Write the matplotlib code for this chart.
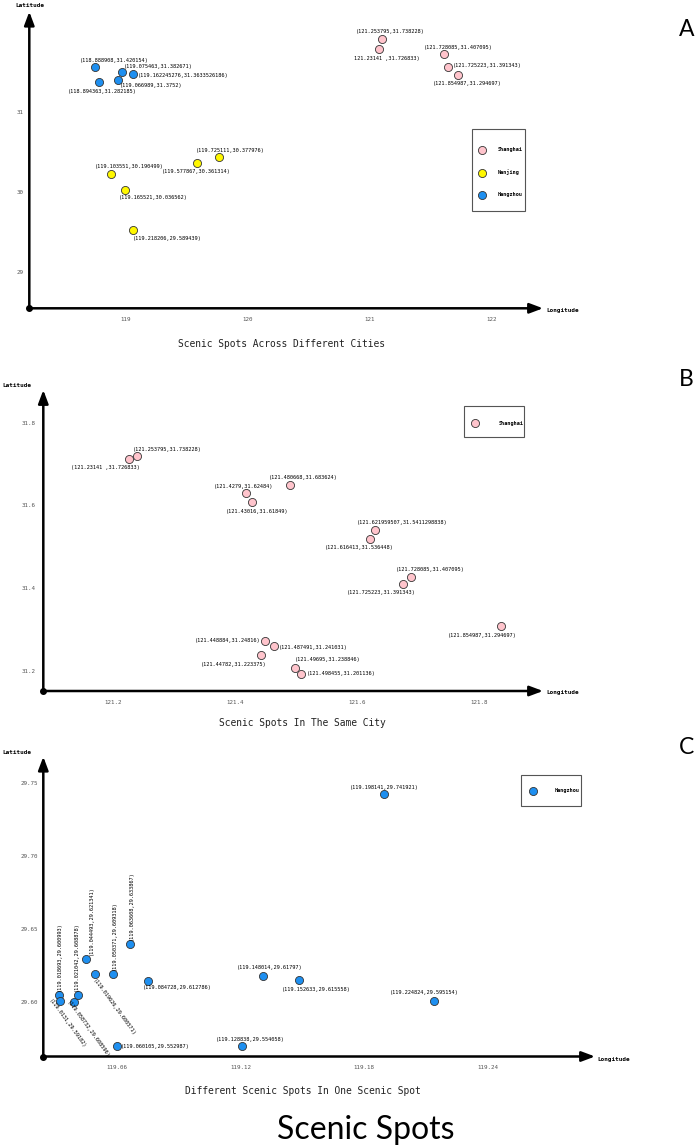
import matplotlib
matplotlib.use("Agg")
import matplotlib.pyplot as plt
from matplotlib.patches import Rectangle

W, H = 700, 1147          # output size in pixels (dpi 100)
MONO = "DejaVu Sans Mono"

COLORS = {
    "Shanghai": "#FFC4CC",
    "Nanjing":  "#FFF700",
    "Hangzhou": "#1E8FF0",
    "edge":     "#333333",
    "tick":     "#555555",
}

# ============================================================
# 数据  (positions, labels as printed)
# ============================================================

# --- A: scenic spots across different cities
A_SH_LON = [121.103, 121.076, 121.609, 121.639, 121.726]
A_SH_LAT = [31.905, 31.780, 31.718, 31.563, 31.455]
A_SH_TXT = ["(121.253795,31.738228)", "121.23141 ,31.726833)", "(121.728085,31.407095)",
            "(121.725223,31.391343)", "(121.854987,31.294697)"]

A_NJ_LON = [118.882, 118.992, 119.062, 119.582, 119.765]
A_NJ_LAT = [30.218, 30.021, 29.521, 30.355, 30.430]
A_NJ_TXT = ["(119.103551,30.190499)", "(119.165521,30.036562)", "(119.218206,29.589439)",
            "(119.577867,30.361314)", "(119.725111,30.377976)"]

A_HZ_LON = [118.746, 118.970, 119.062, 118.781, 118.939]
A_HZ_LAT = [31.563, 31.500, 31.471, 31.371, 31.396]
A_HZ_TXT = ["(118.888908,31.420154)", "(119.075463,31.382671)", "(119.162245276,31.3633526186)",
            "(118.894363,31.282185)", "(119.066989,31.3752)"]

A_XTICKS = [119, 120, 121, 122]
A_YTICKS = [29, 30, 31]

# --- B: scenic spots in the same city (Shanghai)
B_LON = [121.227, 121.240, 121.418, 121.428, 121.490, 121.629, 121.622, 121.689,
         121.675, 121.835, 121.450, 121.464, 121.443, 121.498, 121.509]
B_LAT = [31.711, 31.719, 31.629, 31.607, 31.650, 31.540, 31.519, 31.427,
         31.410, 31.308, 31.272, 31.260, 31.238, 31.206, 31.193]
B_TXT = ["(121.23141 ,31.726833)", "(121.253795,31.738228)", "(121.4279,31.62484)",
         "(121.43016,31.61849)", "(121.480668,31.683624)", "(121.621959507,31.5411298838)",
         "(121.616413,31.536448)", "(121.728085,31.407095)", "(121.725223,31.391343)",
         "(121.854987,31.294697)", "(121.448884,31.24816)", "(121.487491,31.241031)",
         "(121.44782,31.223375)", "(121.49695,31.238846)", "(121.498455,31.201136)"]

B_XTICKS = [121.2, 121.4, 121.6, 121.8]
B_YTICKS = [31.2, 31.4, 31.6, 31.8]

# --- C: different scenic spots in one scenic spot (Hangzhou)
C_LON = [119.0320, 119.0325, 119.0391, 119.0409, 119.0449, 119.0492, 119.0579, 119.0665,
         119.0751, 119.0601, 119.1209, 119.1308, 119.1486, 119.1897, 119.2140]
C_LAT = [29.6046, 29.6007, 29.6000, 29.6044, 29.6293, 29.6192, 29.6192, 29.6398,
         29.6144, 29.5698, 29.5698, 29.6177, 29.6147, 29.7424, 29.6007]
C_TXT = ["(119.018693,29.600993)", "(119.0131,29.59182)", "(119.058732,29.608596)",
         "(119.021042,29.608878)", "(119.044493,29.621341)", "(119.019626,29.600571)",
         "(119.050371,29.609318)", "(119.063608,29.633867)", "(119.084728,29.612786)",
         "(119.060105,29.552987)", "(119.128838,29.554058)", "(119.148014,29.61797)",
         "(119.152633,29.615558)", "(119.198141,29.741921)", "(119.224824,29.595154)"]

C_XTICKS = [119.06, 119.12, 119.18, 119.24]
C_YTICKS = [29.60, 29.65, 29.70, 29.75]

# ============================================================
# 版式  (label offsets in pixels: dx, dy, ha, va, rotation)
# ============================================================

A_SH_POS = [(8, 8, "center", "center", 0), (8, -9, "center", "center", 0),
            (14, 7, "center", "center", 0), (5, 1, "left", "center", 0),
            (9, -8, "center", "center", 0)]
A_NJ_POS = [(18, 8, "center", "center", 0), (29, -7, "center", "center", 0),
            (0, -8, "left", "center", 0), (0, -8, "center", "center", 0),
            (11, 7, "center", "center", 0)]
A_HZ_POS = [(20, 6, "center", "center", 0), (2, 5, "left", "center", 0),
            (5, -1, "left", "center", 0), (3, -9, "center", "center", 0),
            (2, -5, "left", "center", 0)]

B_POS = [(-24, -8, "center", "center", 0), (-4, 7, "left", "center", 0),
         (-2, 7, "center", "center", 0), (5, -9, "center", "center", 0),
         (13, 7, "center", "center", 0), (27, 8, "center", "center", 0),
         (-11, -9, "center", "center", 0), (19, 7, "center", "center", 0),
         (-22, -9, "center", "center", 0), (-18, -9, "center", "center", 0),
         (-5, 1, "right", "center", 0), (5, -1, "left", "center", 0),
         (-27, -9, "center", "center", 0), (0, 9, "left", "center", 0),
         (5, 0, "left", "center", 0)]

C_POS = [(0, 4, "center", "bottom", 90), (-10, 1, "left", "center", -54),
         (-6, 0, "left", "center", -54), (-1, 4, "center", "bottom", 90),
         (5, 4, "center", "bottom", 90), (-1, -6, "left", "center", -54),
         (2, 4, "center", "bottom", 90), (1, 4, "center", "bottom", 90),
         (-5, -7, "left", "center", 0), (4, -1, "left", "center", 0),
         (8, 6, "center", "center", 0), (7, 8, "center", "center", 0),
         (17, -9, "center", "center", 0), (0, 7, "center", "center", 0),
         (-10, 8, "center", "center", 0)]


def px(x, y):
    """pixel position -> figure fraction"""
    return x / W, 1 - y / H


def make_axes(fig, left, top, right, bottom):
    return fig.add_axes([left / W, 1 - bottom / H, (right - left) / W, (bottom - top) / H])


def style_axes(ax, xlim, ylim, xticks, yticks, xfmt, yfmt, ypad):
    ax.set_xlim(*xlim)
    ax.set_ylim(*ylim)
    ax.set_xticks(xticks)
    ax.set_xticklabels([xfmt.format(v) for v in xticks])
    ax.set_yticks(yticks)
    ax.set_yticklabels([yfmt.format(v) for v in yticks])
    for s in ax.spines.values():
        s.set_visible(False)
    ax.patch.set_alpha(0)
    ax.tick_params(length=0, labelsize=4.2, labelcolor=COLORS["tick"], labelfontfamily=MONO)
    ax.tick_params(axis="x", pad=6.3)
    ax.tick_params(axis="y", pad=ypad)
    plt.setp(ax.get_yticklabels(), ha="center")

    arrow = dict(arrowstyle="-|>,head_length=0.8,head_width=0.3", lw=1.8, color="black",
                 shrinkA=0, shrinkB=0, mutation_scale=10)
    ax.annotate("", xy=(1, 0), xytext=(0, 0), xycoords="axes fraction", arrowprops=arrow,
                annotation_clip=False)
    ax.annotate("", xy=(0, 1), xytext=(0, 0), xycoords="axes fraction", arrowprops=arrow,
                annotation_clip=False)
    ax.plot([0], [0], "o", color="black", ms=4, transform=ax.transAxes, clip_on=False)


def scatter_labeled(ax, lon, lat, texts, pos, city):
    ax.scatter(lon, lat, s=34, c=COLORS[city], edgecolors=COLORS["edge"], linewidths=0.6,
               zorder=3, clip_on=False, label=city)
    for x, y, t, (dx, dy, ha, va, rot) in zip(lon, lat, texts, pos):
        ax.annotate(t, (x, y), xytext=(dx, dy), textcoords="offset pixels", ha=ha, va=va,
                    rotation=rot, rotation_mode="default" if rot in (0, 90) else "anchor",
                    fontsize=3.8, family=MONO, color="black", zorder=4)


def add_legend(fig, ax, anchor, box, textpad, spacing):
    ax.legend(loc="center left", bbox_to_anchor=px(*anchor), bbox_transform=fig.transFigure,
              frameon=False, borderpad=0, handlelength=1, handletextpad=textpad,
              labelspacing=spacing, scatterpoints=1,
              prop=dict(family=MONO, weight="bold", size=3.7))
    l, t, r, b = box
    fig.add_artist(Rectangle(px(l, b), (r - l) / W, (b - t) / H, transform=fig.transFigure,
                             fill=False, edgecolor="#555555", lw=0.8))


def axis_names(fig, lat_xy, lon_xy):
    fig.text(*px(*lat_xy), "Latitude", ha="center", va="center", family=MONO,
             weight="bold", fontsize=4.3)
    fig.text(*px(*lon_xy), "Longitude", ha="left", va="center", family=MONO,
             weight="bold", fontsize=4.3)


def main():
    fig = plt.figure(figsize=(W / 100, H / 100), dpi=100)
    fig.patch.set_facecolor("white")

    # ---------------- A
    ax = make_axes(fig, 29.3, 11.7, 543, 308.3)
    style_axes(ax, (118.2098, 122.4205), (28.5425, 32.25), A_XTICKS, A_YTICKS,
               "{:.0f}", "{:.0f}", 6.7)
    scatter_labeled(ax, A_SH_LON, A_SH_LAT, A_SH_TXT, A_SH_POS, "Shanghai")
    scatter_labeled(ax, A_NJ_LON, A_NJ_LAT, A_NJ_TXT, A_NJ_POS, "Nanjing")
    scatter_labeled(ax, A_HZ_LON, A_HZ_LAT, A_HZ_TXT, A_HZ_POS, "Hangzhou")
    add_legend(fig, ax, (476.4, 172.3), (471.7, 129.3, 525.3, 210.7), 2.6, 3.3)
    axis_names(fig, (30, 5.5), (546.7, 310.7))
    fig.text(*px(281.5, 344), "Scenic Spots Across Different Cities", ha="center",
             va="center", family=MONO, fontsize=6.9, color="#222222")

    # ---------------- B
    ax = make_axes(fig, 43.3, 390, 543, 691)
    style_axes(ax, (121.0864, 121.9045), (31.1512, 31.879), B_XTICKS, B_YTICKS,
               "{:.1f}", "{:.1f}", 10.4)
    scatter_labeled(ax, B_LON, B_LAT, B_TXT, B_POS, "Shanghai")
    add_legend(fig, ax, (469.7, 423.3), (464.3, 406, 524.3, 436.7), 4.1, 3.3)
    axis_names(fig, (17, 385.7), (546.7, 692.7))
    fig.text(*px(302, 723), "Scenic Spots In The Same City", ha="center",
             va="center", family=MONO, fontsize=6.9, color="#222222")

    # ---------------- C
    ax = make_axes(fig, 43.3, 756.7, 595, 1056.5)
    style_axes(ax, (119.0242, 119.2923), (29.5624, 29.7683), C_XTICKS, C_YTICKS,
               "{:.2f}", "{:.2f}", 10.4)
    scatter_labeled(ax, C_LON, C_LAT, C_TXT, C_POS, "Hangzhou")
    add_legend(fig, ax, (527.7, 790.7), (520.7, 775, 580.7, 806), 3.66, 3.3)
    axis_names(fig, (17, 752), (597.3, 1059))
    fig.text(*px(302.5, 1091), "Different Scenic Spots In One Scenic Spot", ha="center",
             va="center", family=MONO, fontsize=6.9, color="#222222")

    # ---------------- panel letters + main title
    for letter, y in [("A", 30), ("B", 380), ("C", 748)]:
        fig.text(*px(686.5, y), letter, ha="center", va="center", family="Lato",
                 fontsize=16.5, color="black")
    fig.text(*px(366, 1130), "Scenic Spots", ha="center", va="center", family="Lato",
             fontsize=23, color="black")

    fig.savefig("out.png", dpi=100, facecolor="white")
    plt.close(fig)


if __name__ == "__main__":
    main()
